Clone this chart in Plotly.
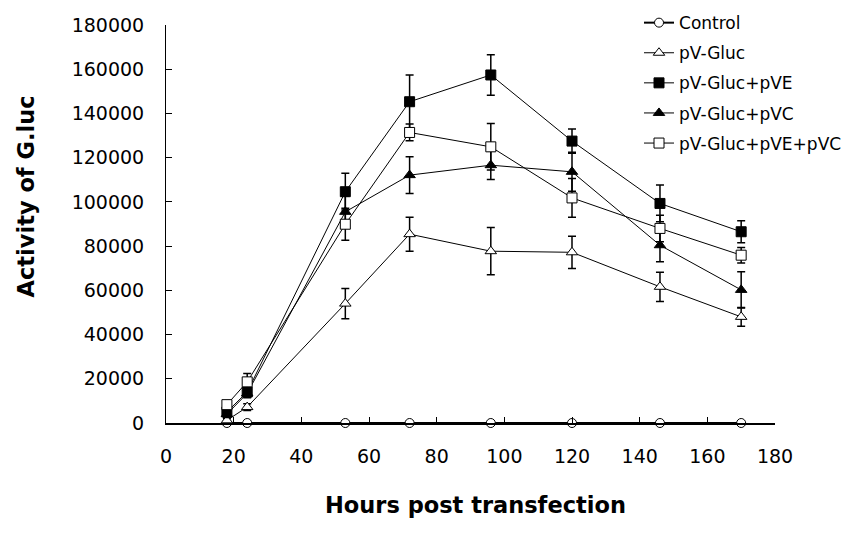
import plotly.graph_objects as go

hours = [18, 24, 53, 72, 96, 120, 146, 170]

series_names = ["Control", "pV-Gluc", "pV-Gluc+pVE", "pV-Gluc+pVC", "pV-Gluc+pVE+pVC"]

control = [0, 0, 0, 0, 0, 0, 0, 0]
control_err = [0, 0, 0, 0, 0, 0, 0, 0]

pv_gluc = [1200, 7200, 54000, 85400, 77700, 77200, 61600, 48000]
pv_gluc_err = [800, 1500, 6800, 7700, 10700, 7300, 6600, 4200]

pv_gluc_pve = [5000, 14000, 104600, 145300, 157400, 127500, 99300, 86500]
pv_gluc_pve_err = [1500, 2000, 8300, 12100, 9200, 5500, 8300, 5000]

pv_gluc_pvc = [4000, 13400, 95500, 112100, 116600, 113600, 80400, 60200]
pv_gluc_pvc_err = [1500, 2000, 7000, 8300, 6500, 8800, 7500, 8200]

pv_gluc_pve_pvc = [8300, 18600, 89900, 131400, 124900, 101800, 88000, 75900]
pv_gluc_pve_pvc_err = [1500, 3800, 7200, 3800, 10500, 8800, 6000, 3500]

values = [control, pv_gluc, pv_gluc_pve, pv_gluc_pvc, pv_gluc_pve_pvc]
errors = [control_err, pv_gluc_err, pv_gluc_pve_err, pv_gluc_pvc_err, pv_gluc_pve_pvc_err]
symbols = ["circle", "triangle-up", "square", "triangle-up", "square"]
fills = ["white", "white", "black", "black", "white"]
sizes = [9, 10, 10, 10, 10]

y_ticks = [0, 20000, 40000, 60000, 80000, 100000, 120000, 140000, 160000, 180000]
x_ticks = [0, 20, 40, 60, 80, 100, 120, 140, 160, 180]

fig = go.Figure()
for i, name in enumerate(series_names):
    fig.add_trace(go.Scatter(
        x=hours, y=values[i], name=name, mode="lines+markers",
        legendgroup=name,
        line=dict(color="black", width=2 if i == 0 else 1),
        marker=dict(symbol=symbols[i], size=sizes[i], color=fills[i],
                    line=dict(color="black", width=1)),
        error_y=dict(type="data", array=errors[i], visible=(i != 0),
                     color="black", thickness=1.5, width=4),
        cliponaxis=False,
    ))

font_family = "DejaVu Sans"
fig.update_layout(
    width=855, height=529,
    margin=dict(l=158, r=88, t=17, b=114, autoexpand=False),
    paper_bgcolor="white", plot_bgcolor="white",
    font=dict(family=font_family, color="black"),
    showlegend=True,
    legend=dict(x=0.7767, y=1.05, xanchor="left", yanchor="top",
                font=dict(family=font_family, size=17, color="black"),
                bgcolor="rgba(0,0,0,0)", traceorder="grouped", tracegroupgap=5),
    xaxis=dict(range=[0, 180], tickvals=x_ticks, ticktext=[str(v) for v in x_ticks],
               showline=True, linecolor="black", linewidth=1.5,
               ticks="inside", ticklen=6, tickcolor="black", tickwidth=1,
               showgrid=False, zeroline=False, automargin=False,
               tickfont=dict(family=font_family, size=19, color="black"),
               ticklabelstandoff=15),
    yaxis=dict(range=[0, 180000], tickvals=y_ticks, tickformat="d",
               showline=True, linecolor="black", linewidth=1,
               ticks="inside", ticklen=6, tickcolor="black", tickwidth=1,
               showgrid=False, zeroline=False, automargin=False,
               tickfont=dict(family=font_family, size=19, color="black"),
               ticklabelstandoff=17),
    annotations=[
        dict(text="<b>Hours post transfection</b>", xref="paper", yref="paper",
             x=0.508, y=-0.206, xanchor="center", yanchor="middle", showarrow=False,
             font=dict(family=font_family, size=22.5, color="black")),
        dict(text="<b>Activity of G.luc</b>", xref="paper", yref="paper",
             x=-0.2307, y=0.568, xanchor="center", yanchor="middle", showarrow=False,
             textangle=-90, font=dict(family=font_family, size=22.5, color="black")),
    ],
)

fig.write_html("out.html")
